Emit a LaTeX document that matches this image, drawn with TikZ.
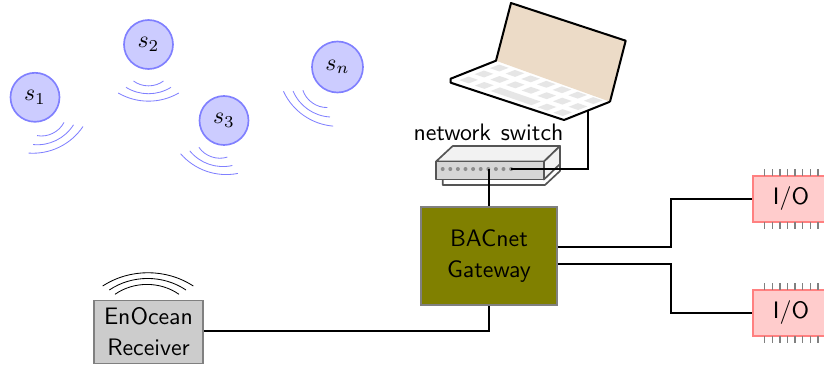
\documentclass[tikz,border=0pt]{standalone}
\usetikzlibrary{calc}
\def\un{0.42pt}
\definecolor{screenc}{HTML}{ECDBC7}
\definecolor{keyc}{HTML}{E6E6E6}
\definecolor{olivec}{HTML}{808000}
\definecolor{swline}{HTML}{555555}
\tikzset{
 sensor/.style={circle,draw=blue!50,fill=blue!20,line width=0.7pt,minimum size=49*\un,inner sep=0pt},
 wave/.style={draw=blue!50,line width=0.35pt,looseness=0.92},
 rxwave/.style={draw=black,line width=0.35pt,looseness=0.92},
 wire/.style={draw=black,line width=0.8pt},
 boxg/.style={draw=gray,line width=0.8pt,align=center,font=\sffamily,inner sep=0pt},
 iobox/.style={draw=red!50,fill=red!20,line width=0.5pt,font=\sffamily,minimum width=90*\un,minimum height=46*\un,inner sep=0pt},
 pin/.style={draw=gray,line width=0.45pt},
 swface/.style={draw=swline,line width=0.7pt,line join=round},
}
\newcommand{\wavegroup}[2]{%
 \begin{scope}[shift={(#1)},rotate=#2]
  \draw[wave] (-15,36.5) to[bend right=37] (15,36.5);
  \draw[wave] (-22.5,42.8) to[bend right=32] (22.5,42.8);
  \draw[wave] (-30.3,48.5) to[bend right=30] (30.3,48.5);
 \end{scope}}
\newcommand{\iopins}[1]{%
 \foreach \px in {764.7,772.3,780,787.7,795,802.7,810.3,818}{
  \draw[pin] (\px,#1-23) -- (\px,#1-30);
  \draw[pin] (\px,#1+23) -- (\px,#1+30);
 }}
\begin{document}
\begin{tikzpicture}[x=\un,y=-\un]
\useasboundingbox (0,0) rectangle (824,365);
\clip (0,0) rectangle (824,365);
% sensors
\node[sensor] (s1) at (35,97.3) {$s_1$};
\node[sensor] (s2) at (148.5,44.5) {$s_2$};
\node[sensor] (s3) at (224,120.5) {$s_3$};
\node[sensor,minimum size=51*\un] (sn) at (337.5,67) {$s_n$};
\wavegroup{34.5,96.2}{26}
\wavegroup{148.5,44.5}{0}
\wavegroup{225,117.7}{-19}
\wavegroup{336.1,69}{-35}
% laptop
\fill[white] (496,60.7) -- (450.7,78.7) -- (450.7,82.7) -- (564,120) -- (610,101.7) -- cycle;
\fill[screenc] (511,3) -- (625.7,40.7) -- (610,101.7) -- (496,60.7) -- cycle;
\draw[line width=0.85pt,line join=round] (610,101.7) -- (625.7,40.7) -- (511,3) -- (496,60.7) -- (450.7,78.7) -- (450.7,82.7) -- (564,120) -- (610,101.7);
\foreach \r/\cs in {0/{0,1,2,3,4,5,6},1/{0,1,2,3,4,5,6},2/{0,1,5,6}}{
 \foreach \c in \cs {
  \fill[keyc] ({499.3+15.67*\c-15.33*\r+4.7-4.6},{68+5.43*\c+6*\r+1.63+1.8})
   -- ++(-9.4,-3.26) -- ++(4.6*2,-1.8*2) -- ++(9.4,3.26) -- cycle;
 }}
\coordinate (spc) at ({499.3+15.67*3-15.33*2},{68+5.43*3+6*2});
\fill[keyc] ($(spc)+(20.4-4.6,7.06+1.8)$) -- ++(-40.8,-14.12) -- ++(9.2,-3.6) -- ++(40.8,14.12) -- cycle;
\coordinate (lapport) at (587.7,111);
% switch
\coordinate (swr) at (511,169);
\coordinate (swb) at (489,169);
\draw[swface,fill=white] (442.7,179) -- (442.7,185) -- (545,185) -- (560,171) -- (560,160) -- cycle;
\draw[swface,fill=black!5] (436,161.5) -- (452.7,146) -- (560,146) -- (544,161.5) -- cycle;
\draw[swface,fill=black!16] (436,161.5) rectangle (544,179.5);
\draw[swface,fill=black!5] (544,161.5) -- (560,146) -- (560,164) -- (544,179.5) -- cycle;
\foreach \dx in {0,...,9}{\fill[black!45] ({442.7+7.6*\dx},169) circle (2);}
\node[font=\sffamily,inner sep=0pt] (swl) at (488.5,132.5) {network\hspace{0.08em} switch};
% gateway etc
\node[boxg,fill=olivec,minimum width=136*\un,minimum height=98*\un] (gw) at (489,256) {BACnet\\[1pt]Gateway};
\node[boxg,fill=black!20,minimum width=109*\un,minimum height=63*\un] (rx) at (148.5,332) {EnOcean\\[1pt]Receiver};
\node[iobox] (io1) at (798,199) {};
\node[iobox] (io2) at (798,313) {};
\node[font=\sffamily,inner sep=0pt] (io1t) at (791,199) {I/O};
\node[font=\sffamily,inner sep=0pt] (io2t) at (791,313) {I/O};
\iopins{199}
\iopins{313}
% wires
\draw[wire] (lapport) -- (lapport|-swr) -- (swr);
\draw[wire] (swb) -- (gw.north-|swb);
\draw[wire] (rx.east|-0,331) -- (489,331) -- (gw.south);
\draw[wire] (gw.east|-0,247) -- (671,247) -- (671,199) -- (io1.west);
\draw[wire] (gw.east|-0,264) -- (671,264) -- (671,313) -- (io2.west);
% receiver waves
\draw[rxwave] (115,294.3) to[bend left=35] (179,294.3);
\draw[rxwave] (109.3,290) to[bend left=34] (186,290);
\draw[rxwave] (102.7,286) to[bend left=33] (193.3,286);
\end{tikzpicture}
\end{document}
